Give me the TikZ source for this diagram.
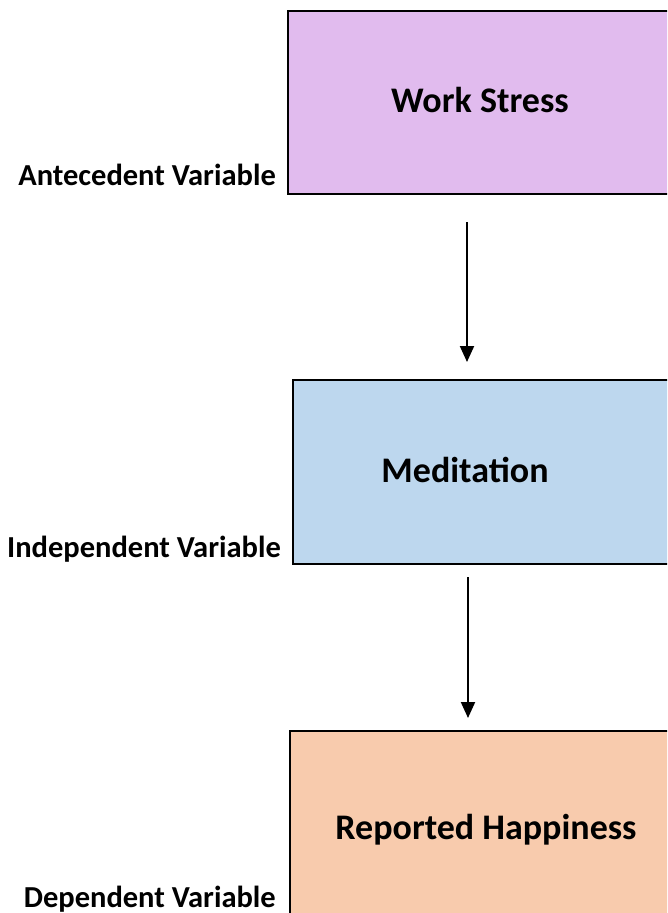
\documentclass[tikz,border=0pt]{standalone}
\usepackage{fontspec}
\setmainfont{Carlito}
\usetikzlibrary{arrows.meta}
\definecolor{stressfill}{HTML}{E1BBEE}
\definecolor{medfill}{HTML}{BDD7EE}
\definecolor{happyfill}{HTML}{F8CBAD}
\begin{document}
\begin{tikzpicture}[x=1pt,y=-1pt,
  varbox/.style={draw=black, line width=2.4pt, minimum width=420pt, anchor=north west, inner sep=0pt},
  boxtext/.style={font=\fontsize{36}{43}\selectfont\bfseries, anchor=base, inner sep=0pt},
  sidelabel/.style={font=\fontsize{30.5}{36}\selectfont\bfseries, anchor=base east, inner sep=0pt},
  flow/.style={-{Triangle[length=16pt,width=14pt]}, line width=2pt}]
\useasboundingbox (0,0) rectangle (667,913);
\clip (0,0) rectangle (667,913);
\fill[white] (0,0) rectangle (667,913);

% variable boxes (they run past the right edge)
\node[varbox, fill=stressfill, minimum height=183pt] (stress) at (287,10) {};
\node[varbox, fill=medfill, minimum height=184pt] (med) at (292,379) {};
\node[varbox, fill=happyfill, minimum height=220pt] (happy) at (289,730) {};

% box titles
\node[boxtext] (stressT) at (480,112) {Work Stress};
\node[boxtext] (medT) at (465,482) {Meditation};
\node[boxtext] (happyT) at (486,839) {Reported Happiness};

% role labels
\node[sidelabel] (antL) at (276,185) {Antecedent Variable};
\node[sidelabel] (indL) at (281,557) {Independent Variable};
\node[sidelabel] (depL) at (276,907) {Dependent Variable};

% connectors
\coordinate (a1s) at (467,222);
\coordinate (a1e) at (467,362);
\coordinate (a2s) at (468,577);
\coordinate (a2e) at (468,718);
\draw[flow] (a1s) -- (a1e);
\draw[flow] (a2s) -- (a2e);
\end{tikzpicture}
\end{document}
